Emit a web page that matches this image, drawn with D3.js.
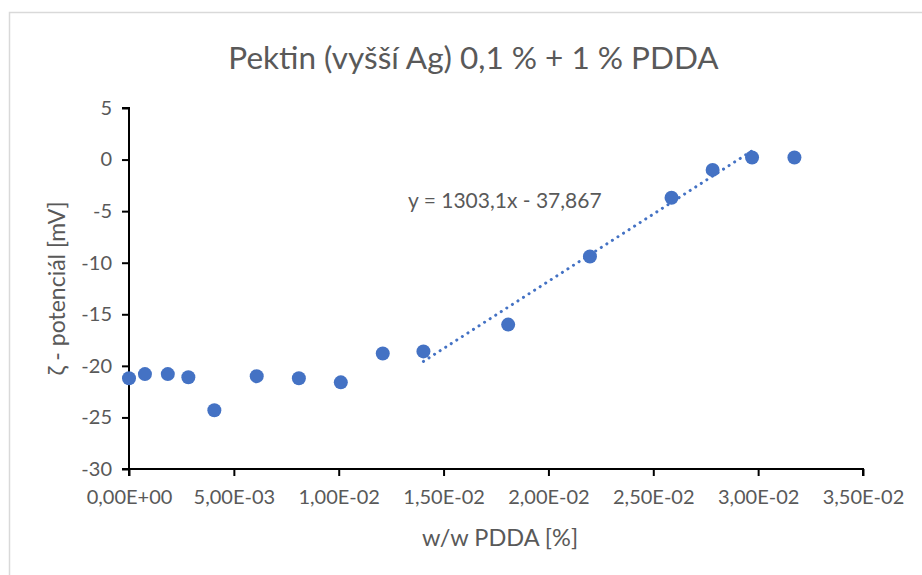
<!DOCTYPE html>
<html>
<head>
<meta charset="utf-8">
<script src="https://cdn.jsdelivr.net/npm/d3@7"></script>
<style>
  html, body { margin: 0; padding: 0; background: #fff; }
  svg { display: block; }
  text { font-family: Lato, "Open Sans", sans-serif; fill: #595959; }
</style>
</head>
<body>
<script>
// PDDA concentration (w/w %) and measured zeta potential (mV)
const pddaConc = [0, 0.00076, 0.00185, 0.00283, 0.00407, 0.00609, 0.0081, 0.0101,
                  0.0121, 0.01404, 0.01808, 0.02198, 0.02587, 0.02783, 0.02971, 0.03173];
const zetaPotential = [-21.2, -20.8, -20.8, -21.1, -24.3, -21.0, -21.2, -21.6,
                       -18.8, -18.6, -16.0, -9.4, -3.7, -1.0, 0.2, 0.2];

// linear fit over the rising part of the curve
const fitSlope = 1303.1;
const fitIntercept = -37.867;
const fitRange = [0.01404, 0.02971];

const xTicks = [0, 0.005, 0.01, 0.015, 0.02, 0.025, 0.03, 0.035];
const xTickLabels = ["0,00E+00", "5,00E-03", "1,00E-02", "1,50E-02", "2,00E-02", "2,50E-02", "3,00E-02", "3,50E-02"];
const yTicks = [5, 0, -5, -10, -15, -20, -25, -30];

const W = 922, H = 575;
const plot = { left: 129, right: 863, top: 108, bottom: 469 };

const svg = d3.select("body").append("svg").attr("width", W).attr("height", H);

// chart area frame
svg.append("rect")
  .attr("x", 9.5).attr("y", 12.5)
  .attr("width", 940).attr("height", 600)
  .attr("fill", "#fff").attr("stroke", "#d9d9d9").attr("stroke-width", 1.5);

const x = d3.scaleLinear().domain([0, 0.035]).range([plot.left, plot.right]);
const y = d3.scaleLinear().domain([-30, 5]).range([plot.bottom, plot.top]);

// title
svg.append("text")
  .attr("x", 473.5).attr("y", 68.5)
  .attr("text-anchor", "middle")
  .style("font-size", "31.5px")
  .text("Pektin (vyšší Ag) 0,1 % + 1 % PDDA");

// y axis (plain hyphen as the minus sign)
const yAxis = svg.append("g")
  .attr("transform", `translate(${plot.left},0)`)
  .call(d3.axisLeft(y).tickValues(yTicks).tickSize(7).tickPadding(10)
    .tickFormat(d => String(d)));
yAxis.selectAll("text").style("font-size", "20px").attr("fill", "#595959");

// x axis, sits at the bottom of the value range
const xAxis = svg.append("g")
  .attr("transform", `translate(0,${plot.bottom})`)
  .call(d3.axisBottom(x).tickValues(xTicks).tickSize(7).tickPadding(14)
    .tickFormat((d, i) => xTickLabels[i]));
xAxis.selectAll("text").style("font-size", "20px").attr("fill", "#595959");

[yAxis, xAxis].forEach(g => {
  g.select(".domain").attr("stroke", "#000").attr("stroke-width", 2);
  g.selectAll(".tick line").attr("stroke", "#000").attr("stroke-width", 2);
});
xAxis.select(".domain").attr("d", `M${plot.left},7V0H${plot.right}V7`);
yAxis.select(".domain").attr("d", `M-7,${plot.top}H0V${plot.bottom}H-7`);

// axis titles
svg.append("text")
  .attr("x", 500).attr("y", 546)
  .attr("text-anchor", "middle")
  .style("font-size", "23.5px")
  .text("w/w PDDA [%]");

svg.append("text")
  .attr("transform", `translate(65,${(plot.top + plot.bottom) / 2}) rotate(-90)`)
  .attr("text-anchor", "middle")
  .style("font-size", "23px")
  .text("ζ - potenciál [mV]");

// data points
svg.append("g").selectAll("circle")
  .data(pddaConc.map((c, i) => [c, zetaPotential[i]]))
  .join("circle")
  .attr("cx", d => x(d[0]))
  .attr("cy", d => y(d[1]))
  .attr("r", 7)
  .attr("fill", "#4472c4");

// dotted trendline
svg.append("line")
  .attr("x1", x(fitRange[0])).attr("y1", y(fitSlope * fitRange[0] + fitIntercept))
  .attr("x2", x(fitRange[1])).attr("y2", y(fitSlope * fitRange[1] + fitIntercept))
  .attr("stroke", "#4472c4").attr("stroke-width", 3)
  .attr("stroke-linecap", "round")
  .attr("stroke-dasharray", "0.1 6.5");

// trendline equation
svg.append("text")
  .attr("x", 408).attr("y", 208)
  .style("font-size", "21px")
  .text("y = 1303,1x - 37,867");
</script>
</body>
</html>
